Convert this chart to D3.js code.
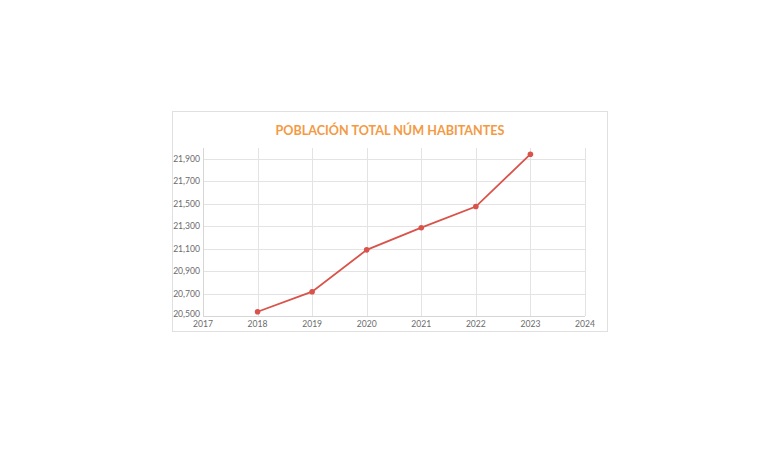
<!DOCTYPE html>
<html><head><meta charset="utf-8">
<script src="https://cdn.jsdelivr.net/npm/d3@7"></script>
<style>body{margin:0;background:#fff;}svg{display:block;font-family:Lato,"Open Sans",sans-serif;}</style>
</head><body>
<svg id="c" width="780" height="470"></svg>
<script>
const title = "POBLACIÓN TOTAL NÚM HABITANTES";
const years = [2018, 2019, 2020, 2021, 2022, 2023];
const population = [20538, 20716, 21088, 21285, 21473, 21938];
const xTicks = [2017, 2018, 2019, 2020, 2021, 2022, 2023, 2024];
const yTicks = [20500, 20700, 20900, 21100, 21300, 21500, 21700, 21900];

const svg = d3.select("#c");
svg.append("rect").attr("x", 172.5).attr("y", 111.5).attr("width", 435).attr("height", 220)
  .attr("fill", "#fff").attr("stroke", "#e0e0e0");

svg.append("text").attr("x", 390).attr("y", 134.5).attr("text-anchor", "middle")
  .attr("fill", "#f39a43").attr("font-size", 12.6).attr("font-weight", "bold").text(title);

const x = d3.scaleLinear().domain([2017, 2024]).range([203, 585]);
const y = d3.scaleLinear().domain([20500, 22000]).range([316, 147.25]);

const g = svg.append("g");
g.selectAll("line.h").data(yTicks.slice(1)).join("line")
  .attr("x1", x(2017)).attr("x2", x(2024))
  .attr("y1", d => Math.round(y(d)) + 0.5).attr("y2", d => Math.round(y(d)) + 0.5)
  .attr("stroke", "#e3e3e3");
g.selectAll("line.v").data(xTicks.slice(1)).join("line")
  .attr("x1", d => Math.round(x(d)) + 0.5).attr("x2", d => Math.round(x(d)) + 0.5)
  .attr("y1", 148).attr("y2", y(20500))
  .attr("stroke", "#e3e3e3");
g.append("line").attr("x1", x(2017) + 0.5).attr("x2", x(2017) + 0.5).attr("y1", 148).attr("y2", y(20500))
  .attr("stroke", "#d6d6d6");
g.append("line").attr("x1", x(2017)).attr("x2", x(2024)).attr("y1", y(20500) + 0.5).attr("y2", y(20500) + 0.5)
  .attr("stroke", "#d6d6d6");

const fmt = d3.format(",");
g.selectAll("text.y").data(yTicks).join("text")
  .attr("x", 200).attr("y", d => y(d) + (d === yTicks[0] ? 0.5 : 3)).attr("text-anchor", "end")
  .attr("fill", "#6b6b6b").attr("font-size", 8.6).text(d => fmt(d));
g.selectAll("text.x").data(xTicks).join("text")
  .attr("x", d => x(d)).attr("y", 326.5).attr("text-anchor", "middle")
  .attr("fill", "#6b6b6b").attr("font-size", 8.6).text(d => d);

const line = d3.line().x((d, i) => x(years[i])).y(d => y(d));
svg.append("path").datum(population).attr("d", line)
  .attr("fill", "none").attr("stroke", "#d9534a").attr("stroke-width", 1.8);
svg.selectAll("circle").data(population).join("circle")
  .attr("cx", (d, i) => x(years[i])).attr("cy", d => y(d)).attr("r", 2.8)
  .attr("fill", "#d9534a");
</script>
</body></html>
